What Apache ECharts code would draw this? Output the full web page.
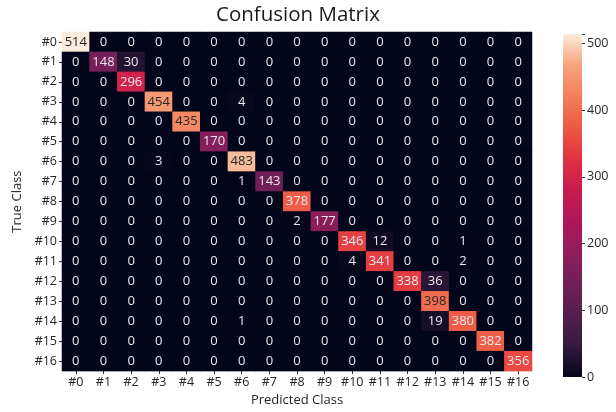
<!DOCTYPE html>
<html>
<head>
<meta charset="utf-8">
<script src="https://cdn.jsdelivr.net/npm/echarts@6/dist/echarts.min.js"></script>
<style>html,body{margin:0;padding:0;background:#fff;}#c{width:616px;height:412px;}</style>
</head>
<body>
<div id="c"></div>
<script>
var classes = ['#0','#1','#2','#3','#4','#5','#6','#7','#8','#9','#10','#11','#12','#13','#14','#15','#16'];
var matrix = [
  [514,0,0,0,0,0,0,0,0,0,0,0,0,0,0,0,0],
  [0,148,30,0,0,0,0,0,0,0,0,0,0,0,0,0,0],
  [0,0,296,0,0,0,0,0,0,0,0,0,0,0,0,0,0],
  [0,0,0,454,0,0,4,0,0,0,0,0,0,0,0,0,0],
  [0,0,0,0,435,0,0,0,0,0,0,0,0,0,0,0,0],
  [0,0,0,0,0,170,0,0,0,0,0,0,0,0,0,0,0],
  [0,0,0,3,0,0,483,0,0,0,0,0,0,0,0,0,0],
  [0,0,0,0,0,0,1,143,0,0,0,0,0,0,0,0,0],
  [0,0,0,0,0,0,0,0,378,0,0,0,0,0,0,0,0],
  [0,0,0,0,0,0,0,0,2,177,0,0,0,0,0,0,0],
  [0,0,0,0,0,0,0,0,0,0,346,12,0,0,1,0,0],
  [0,0,0,0,0,0,0,0,0,0,4,341,0,0,2,0,0],
  [0,0,0,0,0,0,0,0,0,0,0,0,338,36,0,0,0],
  [0,0,0,0,0,0,0,0,0,0,0,0,0,398,0,0,0],
  [0,0,0,0,0,0,1,0,0,0,0,0,0,19,380,0,0],
  [0,0,0,0,0,0,0,0,0,0,0,0,0,0,0,382,0],
  [0,0,0,0,0,0,0,0,0,0,0,0,0,0,0,0,356]
];
var colorbarTicks = [0,100,200,300,400,500];
var vmin = 0, vmax = 514;
var rocket = ['#03051A','#35193E','#541E4E','#701F57','#8F1D5B','#AD1759','#CB1B4F','#E13342','#ED5A43','#F37F5A','#F6A47C','#FAEBDD'];
var rocketPos = [0,0.09,0.18,0.27,0.36,0.45,0.55,0.64,0.73,0.82,0.91,1.0];

var FONT = '"Open Sans", "Noto Sans", sans-serif';
var data = [];
for (var r = 0; r < matrix.length; r++) {
  for (var c = 0; c < matrix[r].length; c++) {
    var v = matrix[r][c];
    data.push({
      value: [c, r, v],
      label: { color: v > 390 ? '#262626' : '#e8e8ee' }
    });
  }
}
var stops = rocket.map(function(col, i){ return {offset: rocketPos[i], color: col}; });

var chart = echarts.init(document.getElementById('c'));
chart.setOption({
  animation: false,
  backgroundColor: '#fff',
  title: {
    text: 'Confusion Matrix', left: 216, top: 5, padding: 0,
    textStyle: { fontFamily: FONT, fontSize: 20.5, fontWeight: 'normal', color: '#1a1a1a' }
  },
  grid: [
    { left: 62, right: 84, top: 32, bottom: 36, show: true, backgroundColor: rocket[0], borderWidth: 0 },
    { left: 563, width: 19, top: 34, bottom: 35 }
  ],
  xAxis: [
    {
      type: 'category', data: classes, gridIndex: 0,
      name: 'Predicted Class', nameLocation: 'middle', nameGap: 22,
      nameTextStyle: { fontFamily: FONT, fontSize: 13, color: '#262626' },
      axisLine: { show: false },
      axisTick: { show: true, alignWithLabel: true, length: 3, lineStyle: { color: '#333' } },
      axisLabel: { fontFamily: FONT, fontSize: 12.5, color: '#262626', margin: 5, interval: 0 },
      splitArea: { show: false }
    },
    { type: 'category', data: ['cb'], gridIndex: 1, show: false }
  ],
  yAxis: [
    {
      type: 'category', data: classes, inverse: true, gridIndex: 0,
      name: 'True Class', nameLocation: 'middle', nameGap: 36, nameRotate: 90,
      nameTextStyle: { fontFamily: FONT, fontSize: 13, color: '#262626' },
      axisLine: { show: false },
      axisTick: { show: true, alignWithLabel: true, length: 3, lineStyle: { color: '#333' } },
      axisLabel: { fontFamily: FONT, fontSize: 12.5, color: '#262626', margin: 5, interval: 0 }
    },
    {
      type: 'value', gridIndex: 1, position: 'right', min: vmin, max: vmax, interval: 100,
      axisLine: { show: false },
      axisTick: { show: true, length: 3, lineStyle: { color: '#333' } },
      splitLine: { show: false },
      axisLabel: { fontFamily: FONT, fontSize: 12.5, color: '#262626', margin: 5,
        formatter: function(v){ return colorbarTicks.indexOf(v) >= 0 ? String(v) : ''; } }
    }
  ],
  visualMap: {
    show: false, min: vmin, max: vmax, seriesIndex: 0, dimension: 2,
    inRange: { color: (function(){
      var out = [];
      for (var i = 0; i <= 100; i++) {
        var t = i / 100, k = 0;
        while (k < rocketPos.length - 2 && t > rocketPos[k+1]) k++;
        var f = (t - rocketPos[k]) / (rocketPos[k+1] - rocketPos[k]);
        var a = echarts.color.parse(rocket[k]), b = echarts.color.parse(rocket[k+1]);
        out.push('rgb(' + Math.round(a[0]+(b[0]-a[0])*f) + ',' + Math.round(a[1]+(b[1]-a[1])*f) + ',' + Math.round(a[2]+(b[2]-a[2])*f) + ')');
      }
      return out;
    })() }
  },
  series: [
    {
      type: 'heatmap', xAxisIndex: 0, yAxisIndex: 0, data: data,
      label: { show: true, fontFamily: FONT, fontSize: 13,
        formatter: function(p){ return p.value[2]; } },
      itemStyle: { borderWidth: 0 },
      emphasis: { disabled: true }
    },
    {
      type: 'bar', xAxisIndex: 1, yAxisIndex: 1, data: [vmax], barWidth: '100%',
      itemStyle: { color: { type: 'linear', x: 0, y: 1, x2: 0, y2: 0, colorStops: stops } },
      silent: true
    }
  ]
});
</script>
</body>
</html>
